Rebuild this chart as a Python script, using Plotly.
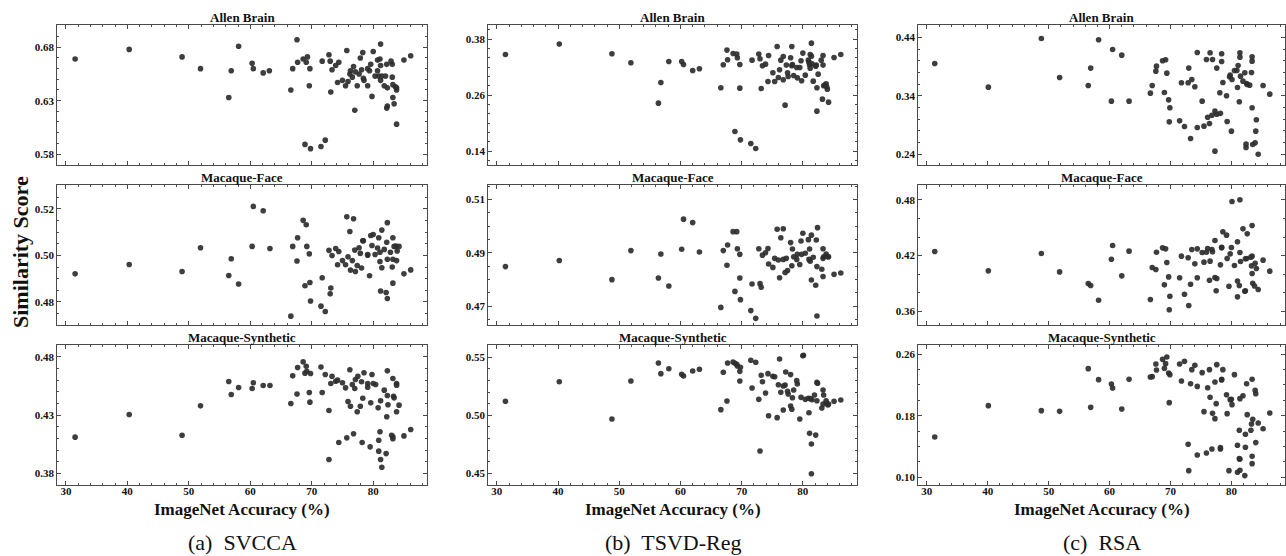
import plotly.graph_objects as go

# ---------------- data (ImageNet accuracy %, similarity score) ----------------
SVCCA_ALLEN = [(31.5,.669),(40.3,.678),(48.9,.671),(51.9,.660),(56.5,.633),(56.9,.658),(58.1,.681),(60.3,.665),(60.5,.660),(62.1,.656),(63.1,.658),(66.6,.640),(66.9,.660),(67.6,.687),(67.7,.666),(68.6,.669),(68.9,.589),(69.1,.666),(69.3,.671),(69.6,.644),(69.7,.660),(69.8,.585),(71.5,.587),(71.7,.667),(72.2,.593),(72.8,.673),(73.0,.667),(73.1,.638),(73.3,.659),(73.9,.663),(74.4,.666),(74.2,.647),(75.0,.649),(75.5,.644),(75.7,.677),(75.9,.648),(76.2,.655),(76.3,.658),(76.6,.652),(76.8,.662),(77.0,.621),(77.1,.657),(77.4,.644),(77.7,.655),(77.9,.670),(78.1,.659),(78.3,.675),(78.4,.651),(78.5,.649),(79.1,.644),(79.1,.660),(79.4,.658),(79.6,.664),(79.8,.634),(80.0,.676),(80.3,.653),(80.7,.658),(80.7,.668),(80.9,.653),(81.1,.669),(81.2,.683),(81.2,.663),(81.2,.649),(81.4,.653),(81.8,.644),(82.0,.653),(82.2,.664),(82.2,.623),(82.3,.642),(82.3,.625),(82.9,.667),(83.1,.664),(83.1,.652),(83.2,.633),(83.2,.645),(83.4,.627),(83.6,.643),(83.8,.642),(83.8,.640),(83.8,.608),(85.0,.668),(86.1,.672)]

SVCCA_FACE = [(31.5,.4921),(40.3,.4961),(48.9,.4931),(51.9,.5033),(56.5,.4914),(56.9,.4986),(58.1,.4877),(60.3,.5039),(60.5,.5211),(62.1,.5192),(63.2,.5030),(66.6,.4739),(66.9,.5039),(67.6,.4976),(67.7,.5076),(68.6,.5151),(68.9,.4870),(69.1,.5132),(69.2,.5039),(69.6,.5007),(69.7,.4884),(69.8,.4804),(71.5,.4782),(71.7,.4904),(72.2,.4759),(72.8,.5022),(73.0,.4835),(73.1,.4860),(73.3,.5000),(73.9,.5030),(74.4,.5017),(74.2,.4960),(75.0,.4978),(75.5,.4960),(75.7,.5166),(75.9,.4994),(76.2,.5103),(76.3,.4937),(76.6,.4978),(76.8,.5158),(77.0,.5023),(77.1,.4931),(77.4,.4957),(77.7,.5033),(77.9,.5009),(78.1,.4946),(78.3,.5063),(78.4,.5063),(79.1,.5004),(79.1,.5001),(79.4,.4913),(79.6,.5086),(79.8,.5043),(80.0,.5090),(80.3,.5004),(80.7,.5032),(80.9,.5076),(81.1,.5014),(81.1,.4974),(81.2,.4847),(81.4,.5109),(81.4,.4947),(81.8,.5026),(82.1,.4841),(82.2,.5057),(82.3,.5141),(82.3,.4984),(82.3,.4815),(82.8,.5014),(83.1,.4950),(83.2,.5076),(83.2,.4984),(83.2,.4881),(83.4,.5039),(83.7,.5040),(83.8,.4978),(83.9,.5019),(84.2,.5039),(85.0,.4921),(86.1,.4938)]

SVCCA_SYNTH = [(31.5,.4111),(40.3,.4306),(48.9,.4128),(51.9,.4380),(56.5,.4589),(56.9,.4478),(58.1,.4538),(60.3,.4529),(60.5,.4578),(62.1,.4555),(63.2,.4555),(66.6,.4400),(66.9,.4638),(67.6,.4481),(67.7,.4710),(68.6,.4758),(68.9,.4661),(69.1,.4721),(69.2,.4678),(69.8,.4658),(69.6,.4495),(69.7,.4412),(71.5,.4713),(71.7,.4495),(72.2,.4650),(72.8,.3919),(72.8,.4340),(73.1,.4572),(73.3,.4635),(73.9,.4592),(74.2,.4601),(74.4,.4065),(75.0,.4578),(75.5,.4535),(75.7,.4105),(75.9,.4417),(76.2,.4690),(76.3,.4377),(76.6,.4564),(76.8,.4140),(77.0,.4529),(77.1,.4607),(77.4,.4329),(77.5,.4635),(77.9,.4377),(78.1,.4587),(78.2,.4065),(78.3,.4446),(78.5,.4664),(79.1,.4541),(79.1,.4572),(79.5,.4028),(79.6,.4406),(79.8,.4650),(80.0,.4572),(80.4,.4564),(80.8,.4363),(80.9,.3991),(80.9,.4085),(81.1,.4157),(81.2,.3919),(81.2,.4423),(81.4,.3853),(81.8,.4515),(82.1,.3970),(82.2,.4286),(82.3,.4681),(82.3,.4469),(82.4,.4389),(83.0,.4128),(83.2,.4114),(83.2,.4097),(83.2,.4615),(83.3,.4463),(83.4,.4449),(83.8,.4558),(83.8,.4572),(83.8,.4329),(84.2,.4386),(85.0,.4122),(86.1,.4177)]

TSVD_ALLEN = [(31.4,.3474),(40.2,.3696),(48.8,.3488),(51.9,.3295),(56.4,.2428),(56.8,.2872),(58.1,.3324),(60.2,.3324),(60.5,.3259),(62.0,.3130),(63.1,.3166),(66.6,.2758),(67.0,.3252),(67.6,.3567),(67.7,.3359),(68.6,.3495),(68.9,.1819),(69.2,.3481),(69.3,.3402),(69.7,.3259),(69.7,.2750),(69.8,.1640),(71.5,.1561),(71.7,.3352),(72.3,.1454),(72.8,.3481),(73.0,.3381),(73.2,.2743),(73.4,.3230),(73.9,.3266),(74.4,.3452),(74.3,.2894),(75.1,.3080),(75.4,.2894),(75.8,.3646),(76.0,.2980),(76.2,.3144),(76.4,.3352),(76.8,.3431),(76.8,.2930),(77.1,.2385),(77.3,.3245),(77.5,.3080),(77.6,.3001),(78.0,.3402),(78.2,.3230),(78.2,.3646),(78.3,.3259),(78.5,.3023),(79.0,.3195),(79.1,.2972),(79.5,.3195),(79.7,.3338),(79.8,.2908),(80.0,.3503),(80.4,.3030),(80.9,.3352),(81.0,.3309),(81.1,.3245),(81.2,.3474),(81.2,.3180),(81.4,.3717),(81.4,.3438),(81.5,.3273),(81.7,.2901),(82.1,.3223),(82.2,.3245),(82.3,.2758),(82.3,.2256),(82.5,.3051),(83.0,.3352),(83.2,.2514),(83.3,.3245),(83.3,.3452),(83.4,.2801),(83.6,.2815),(83.8,.2844),(83.9,.2779),(84.0,.2729),(84.2,.2450),(85.1,.3409),(86.2,.3474)]

TSVD_FACE = [(31.4,.4848),(40.2,.4871),(48.8,.4799),(51.9,.4908),(56.4,.4805),(56.8,.4895),(58.1,.4775),(60.2,.4913),(60.5,.5026),(62.0,.5013),(63.1,.4903),(66.6,.4695),(67.0,.4908),(67.6,.4853),(67.7,.4929),(68.6,.4979),(68.9,.4755),(69.2,.4979),(69.3,.4915),(69.7,.4805),(69.7,.4894),(69.8,.4724),(71.5,.4683),(71.7,.4783),(72.3,.4654),(72.8,.4915),(73.0,.4784),(73.2,.4771),(73.4,.4891),(73.9,.4900),(74.3,.4916),(74.4,.4858),(75.1,.4845),(75.4,.4879),(75.8,.4988),(76.0,.4873),(76.2,.4806),(76.4,.4956),(76.8,.4990),(76.8,.4875),(77.1,.4826),(77.3,.4879),(77.5,.4833),(78.0,.4938),(78.2,.4851),(78.3,.4914),(78.5,.4885),(79.0,.4875),(79.1,.4894),(79.5,.4856),(79.7,.4944),(79.8,.4894),(80.0,.4973),(80.4,.4898),(80.9,.4949),(81.0,.4875),(81.1,.4914),(81.2,.4868),(81.4,.4798),(81.4,.4966),(81.7,.4883),(82.1,.4778),(82.2,.4948),(82.3,.4848),(82.3,.4663),(82.4,.4994),(83.1,.4838),(83.3,.4915),(83.3,.4811),(83.3,.4879),(83.4,.4885),(83.8,.4895),(83.9,.4888),(84.1,.4885),(84.2,.4885),(85.1,.4819),(86.2,.4824)]

TSVD_SYNTH = [(31.4,.5121),(40.2,.5290),(48.8,.4968),(51.9,.5296),(56.4,.5451),(56.8,.5359),(58.1,.5402),(60.2,.5353),(60.5,.5339),(62.0,.5382),(63.1,.5397),(66.6,.5049),(67.0,.5371),(67.6,.5124),(67.7,.5451),(68.6,.5460),(68.9,.5448),(69.2,.5440),(69.3,.5425),(69.7,.5379),(69.7,.5296),(69.8,.5414),(71.5,.5474),(71.7,.5236),(72.3,.5457),(72.8,.5138),(73.0,.4693),(73.2,.5345),(73.4,.5290),(73.9,.5193),(74.3,.5359),(74.4,.4997),(75.1,.5336),(75.4,.5333),(75.8,.4980),(76.0,.5264),(76.2,.5486),(76.4,.5198),(76.8,.5253),(76.8,.5046),(77.1,.5261),(77.2,.5374),(77.5,.5207),(77.6,.5184),(78.0,.5351),(78.0,.5080),(78.2,.5052),(78.3,.5152),(78.5,.5218),(79.0,.5299),(79.1,.5270),(79.5,.4968),(79.7,.5155),(80.0,.5514),(80.1,.5517),(80.4,.5138),(80.9,.5147),(81.0,.5023),(81.1,.4845),(81.2,.5144),(81.4,.4753),(81.4,.4497),(81.5,.5135),(81.9,.5175),(82.1,.4830),(82.3,.5284),(82.3,.5126),(82.4,.5276),(83.1,.5063),(83.3,.5218),(83.3,.5098),(83.4,.5175),(83.8,.5126),(83.9,.5103),(84.1,.5089),(84.2,.5098),(85.1,.5121),(86.2,.5132)]

RSA_ALLEN = [(31.3,.3956),(40.1,.3549),(48.8,.4386),(51.8,.3715),(56.5,.3578),(56.9,.3876),(58.2,.4363),(60.5,.4197),(60.3,.3308),(62.0,.4099),(63.2,.3308),(66.7,.3446),(67.0,.3578),(67.6,.3824),(67.7,.3910),(68.7,.4002),(69.0,.3457),(69.2,.4019),(69.4,.3790),(69.7,.3331),(69.9,.3194),(69.8,.2953),(71.5,.2970),(71.8,.3624),(72.3,.2873),(72.9,.3624),(73.0,.3876),(73.3,.2667),(73.5,.3681),(74.0,.3555),(74.4,.4145),(74.4,.2856),(75.2,.3308),(75.5,.2879),(75.9,.4025),(76.1,.3031),(76.4,.2924),(76.5,.4139),(76.8,.3065),(76.9,.4025),(77.3,.2449),(77.3,.3140),(77.6,.3876),(77.6,.3082),(78.2,.3099),(78.1,.3452),(78.4,.4122),(78.4,.3990),(78.6,.3629),(79.2,.3400),(79.3,.2959),(79.7,.3727),(80.0,.2793),(80.1,.3681),(79.8,.3755),(80.5,.3836),(80.9,.3836),(81.0,.3543),(81.1,.3921),(81.3,.3297),(81.4,.4065),(81.4,.4139),(81.5,.3738),(81.9,.3652),(82.2,.3795),(82.4,.2569),(82.4,.2512),(82.5,.3612),(82.6,.3595),(83.0,.3583),(83.3,.3801),(83.4,.3194),(83.4,.4071),(83.4,.3996),(83.5,.2563),(83.9,.2592),(84.0,.2793),(84.1,.2989),(84.4,.2397),(85.2,.3578),(86.3,.3429)]

RSA_FACE = [(31.3,.4243),(40.1,.4034),(48.8,.4222),(51.8,.4023),(56.5,.3897),(56.9,.3876),(58.2,.3717),(60.3,.4160),(60.5,.4308),(62.0,.3980),(63.2,.4247),(66.7,.3724),(67.0,.4070),(67.6,.4049),(67.7,.4236),(68.7,.4283),(69.0,.3883),(69.2,.4272),(69.4,.4124),(69.7,.3969),(69.8,.3613),(69.9,.3760),(71.5,.3959),(71.8,.4193),(72.3,.3782),(72.9,.4175),(73.0,.3659),(73.3,.3890),(73.5,.4265),(74.0,.4110),(74.4,.4272),(74.4,.3959),(75.2,.4232),(75.5,.4128),(75.9,.4236),(76.1,.4276),(76.4,.3933),(76.5,.4139),(76.8,.4265),(76.9,.4240),(77.3,.4362),(77.3,.3962),(77.5,.3818),(77.6,.3951),(78.2,.4099),(78.4,.4290),(78.4,.4283),(78.6,.4456),(79.2,.4420),(79.3,.4168),(79.6,.3868),(79.8,.4218),(80.0,.4286),(80.1,.4784),(80.5,.4092),(81.0,.4348),(81.0,.3925),(81.0,.3753),(81.3,.3876),(81.4,.4232),(81.5,.4135),(81.4,.4802),(81.9,.4488),(82.2,.3814),(82.3,.3818),(82.3,.4164),(82.5,.4168),(82.6,.4434),(83.2,.4182),(83.3,.4088),(83.4,.4524),(83.4,.4193),(83.4,.4005),(83.5,.3899),(83.8,.3870),(83.9,.4117),(84.1,.4059),(84.4,.3832),(85.2,.4150),(86.3,.4031)]

RSA_SYNTH = [(31.3,.1523),(40.1,.1930),(48.8,.1865),(51.8,.1856),(56.5,.2410),(56.9,.1908),(58.2,.2267),(60.3,.2211),(60.5,.2159),(62.0,.1886),(63.2,.2271),(66.7,.2302),(67.0,.2306),(67.6,.2470),(67.7,.2392),(68.7,.2531),(69.0,.2414),(69.2,.2475),(69.4,.2561),(69.7,.2354),(69.8,.1969),(69.9,.2332),(71.5,.2470),(71.8,.2250),(72.3,.2505),(72.9,.1428),(73.0,.1086),(73.3,.2215),(73.5,.2397),(74.0,.2453),(74.4,.2180),(74.4,.1290),(75.2,.2358),(75.5,.1852),(75.9,.1316),(76.1,.2163),(76.4,.2397),(76.5,.2038),(76.8,.1368),(76.9,.1830),(77.3,.2237),(77.3,.1761),(77.5,.1956),(77.6,.2462),(78.2,.1368),(78.2,.1385),(78.4,.2271),(78.4,.2263),(78.6,.2397),(79.2,.2072),(79.3,.1826),(79.6,.1086),(79.8,.2008),(80.0,.2012),(80.1,.1943),(80.5,.2332),(81.0,.1415),(81.0,.1065),(81.3,.1242),(81.3,.1610),(81.4,.1234),(81.4,.1091),(81.4,.2021),(81.9,.2059),(82.2,.1022),(82.3,.1389),(82.3,.1558),(82.5,.2215),(82.6,.1813),(83.2,.1610),(83.3,.1692),(83.4,.2271),(83.4,.1272),(83.4,.1177),(83.5,.1752),(83.9,.2129),(84.0,.2085),(84.0,.1450),(84.4,.1705),(85.2,.1631),(86.3,.1835)]

ROW_TITLES = ["Allen Brain", "Macaque-Face", "Macaque-Synthetic"]
CAPTIONS = ["(a)  SVCCA", "(b)  TSVD-Reg", "(c)  RSA"]
X_TICKS = [30, 40, 50, 60, 70, 80]
PANELS = [  # [column][row]
    [SVCCA_ALLEN, SVCCA_FACE, SVCCA_SYNTH],
    [TSVD_ALLEN, TSVD_FACE, TSVD_SYNTH],
    [RSA_ALLEN, RSA_FACE, RSA_SYNTH],
]
Y_TICKS = [
    [[0.58, 0.63, 0.68], [0.48, 0.50, 0.52], [0.38, 0.43, 0.48]],
    [[0.14, 0.26, 0.38], [0.47, 0.49, 0.51], [0.45, 0.50, 0.55]],
    [[0.24, 0.34, 0.44], [0.36, 0.42, 0.48], [0.10, 0.18, 0.26]],
]

# ---------------- layout (pixels) ----------------
W, H = 1286, 556
COLS_PX = [(57.3, 427.3), (488.3, 856.7), (918.3, 1285.0)]
ROWS_PX = [(25.3, 165.0), (185.0, 325.0), (345.0, 485.0)]
Y_RANGES = [
    [(0.5697, 0.7006), (0.4701, 0.5303), (0.3700, 0.4903)],
    [(0.110, 0.410), (0.4629, 0.5154), (0.4400, 0.5606)],
    [(0.2211, 0.4612), (0.3449, 0.4962), (0.0900, 0.2717)],
]
Y_MINOR = [[0.01, 0.005, 0.01], [0.02, 0.005, 0.01], [0.02, 0.02, 0.02]]
X_RANGE = (28.6, 88.8)

FONT = "Liberation Serif"
FRAME = "#4a4a4a"

fig = go.Figure()
annotations = []
k = 0
for c in range(3):
    for r in range(3):
        k += 1
        xa = "x" if k == 1 else f"x{k}"
        ya = "y" if k == 1 else f"y{k}"
        pts = PANELS[c][r]
        fig.add_trace(go.Scatter(
            x=[p[0] for p in pts], y=[p[1] for p in pts],
            mode="markers", xaxis=xa, yaxis=ya, showlegend=False,
            marker=dict(size=5.6, color="#2e2e2e", opacity=0.92, line=dict(width=0)),
        ))
        x0, x1 = COLS_PX[c]
        y0, y1 = ROWS_PX[r]
        xdom = [x0 / W, x1 / W]
        ydom = [1 - y1 / H, 1 - y0 / H]
        common = dict(showline=True, linecolor=FRAME, linewidth=1, mirror="ticks",
                      ticks="inside", ticklen=4, tickwidth=1, tickcolor=FRAME,
                      showgrid=False, zeroline=False,
                      tickfont=dict(family=FONT, size=11, color="#111", weight="bold"))
        fig.layout["xaxis" if k == 1 else f"xaxis{k}"] = dict(
            domain=xdom, anchor=ya, range=list(X_RANGE),
            tickmode="array", tickvals=X_TICKS, ticktext=[str(v) for v in X_TICKS],
            showticklabels=(r == 2), ticklabelstandoff=-4,
            minor=dict(ticks="inside", ticklen=2, tickcolor=FRAME, tick0=30, dtick=2),
            **common)
        yt = Y_TICKS[c][r]
        fig.layout["yaxis" if k == 1 else f"yaxis{k}"] = dict(
            domain=ydom, anchor=xa, range=list(Y_RANGES[c][r]),
            tickmode="array", tickvals=yt, ticktext=[f"{v:.2f}" for v in yt],
            minor=dict(ticks="inside", ticklen=2, tickcolor=FRAME, tick0=yt[0], dtick=Y_MINOR[c][r]),
            **common)
        # panel title
        annotations.append(dict(
            text=ROW_TITLES[r], x=(x0 + x1) / 2 / W, y=1 - (y0 - 7.5) / H,
            xref="paper", yref="paper", showarrow=False, xanchor="center", yanchor="middle",
            font=dict(family=FONT, size=13, color="#111", weight="bold")))
    x0, x1 = COLS_PX[c]
    annotations.append(dict(
        text="ImageNet Accuracy (%)", x=(x0 + x1) / 2 / W, y=1 - 509 / H,
        xref="paper", yref="paper", showarrow=False, xanchor="center", yanchor="middle",
        font=dict(family=FONT, size=17, color="#111", weight="bold")))
    annotations.append(dict(
        text=CAPTIONS[c], x=(x0 + x1) / 2 / W, y=1 - 542 / H,
        xref="paper", yref="paper", showarrow=False, xanchor="center", yanchor="middle",
        font=dict(family=FONT, size=22, color="#111")))

annotations.append(dict(
    text="Similarity Score", x=20 / W, y=1 - 252 / H, textangle=-90,
    xref="paper", yref="paper", showarrow=False, xanchor="center", yanchor="middle",
    font=dict(family=FONT, size=22, color="#111", weight="bold")))

fig.update_layout(
    width=W, height=H, margin=dict(l=0, r=0, t=0, b=0),
    paper_bgcolor="white", plot_bgcolor="white",
    annotations=annotations,
)
fig.write_html(
    "out.html",
    config={"displayModeBar": False},
    post_script="document.body.style.margin='0';document.body.style.padding='0';"
                "document.documentElement.style.overflow='hidden';",
)
